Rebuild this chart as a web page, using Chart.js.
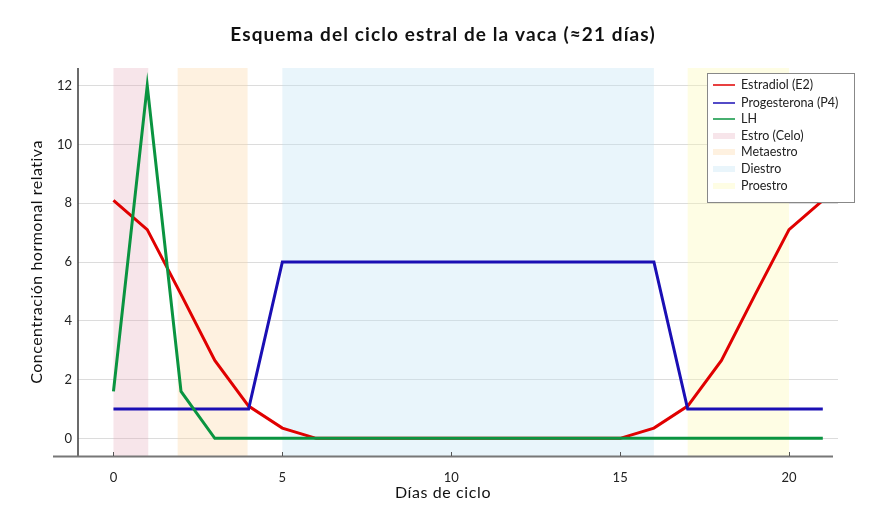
<!DOCTYPE html>
<html>
<head>
<meta charset="utf-8">
<script src="https://cdn.jsdelivr.net/npm/chart.js@4"></script>
<style>
  html, body { margin: 0; padding: 0; background: #fff; }
  #wrap { width: 885px; height: 526px; }
</style>
</head>
<body>
<div id="wrap"><canvas id="grafico" width="885" height="526"></canvas></div>
<script>
// datos del ciclo (día 0 a 21)
const dias = [0,1,2,3,4,5,6,7,8,9,10,11,12,13,14,15,16,17,18,19,20,21];
const estradiol    = [8.1,7.1,4.9,2.65,1.1,0.35,0,0,0,0,0,0,0,0,0,0,0.35,1.1,2.65,4.9,7.1,8.1];
const progesterona = [1,1,1,1,1,6,6,6,6,6,6,6,6,6,6,6,6,1,1,1,1,1];
const lh           = [1.6,12,1.6,0,0,0,0,0,0,0,0,0,0,0,0,0,0,0,0,0,0,0];

// fases
const fases      = ["Estro (Celo)", "Metaestro", "Diestro", "Proestro"];
const faseInicio = [0, 1.9, 5, 17];
const faseFin    = [1.03, 3.97, 16, 20];
const faseColor  = ["rgba(228,170,185,0.3)", "rgba(251,215,165,0.34)", "rgba(190,225,242,0.34)", "rgba(253,250,175,0.34)"];

const xTicks = [0, 5, 10, 15, 20];
const yTicks = [0, 2, 4, 6, 8, 10, 12];

const FONT = "Lato, 'Open Sans', sans-serif";

function puntos(vals) {
  return dias.map((d, i) => ({ x: d, y: vals[i] }));
}

// fondo de fases + ejes + textos
const extras = {
  id: "extras",
  beforeDatasetsDraw(chart) {
    const { ctx, chartArea: a, scales: { x } } = chart;
    ctx.save();
    fases.forEach((f, i) => {
      const x0 = x.getPixelForValue(faseInicio[i]);
      const x1 = x.getPixelForValue(faseFin[i]);
      ctx.fillStyle = faseColor[i];
      ctx.fillRect(x0, a.top, x1 - x0, a.bottom - a.top);
    });
    ctx.restore();
  },
  afterDraw(chart) {
    const { ctx, chartArea: a, scales: { x } } = chart;
    ctx.save();
    // eje y
    ctx.strokeStyle = "#3a3a3a";
    ctx.lineWidth = 1.5;
    ctx.beginPath();
    ctx.moveTo(a.left, a.top);
    ctx.lineTo(a.left, a.bottom);
    ctx.stroke();
    // eje x
    ctx.strokeStyle = "#777";
    ctx.lineWidth = 2;
    ctx.beginPath();
    ctx.moveTo(53, a.bottom + 0.5);
    ctx.lineTo(833, a.bottom + 0.5);
    ctx.stroke();
    ctx.strokeStyle = "#555";
    ctx.lineWidth = 1;
    xTicks.forEach(t => {
      const px = Math.round(x.getPixelForValue(t)) + 0.5;
      ctx.beginPath();
      ctx.moveTo(px, a.bottom - 4);
      ctx.lineTo(px, a.bottom);
      ctx.stroke();
    });

    // título
    ctx.fillStyle = "#111";
    ctx.textAlign = "center";
    ctx.textBaseline = "middle";
    ctx.font = "bold 19px " + FONT;
    ctx.letterSpacing = "1.1px";
    ctx.fillText("Esquema del ciclo estral de la vaca (≈21 días)", 443, 35);
    ctx.font = "16px " + FONT;
    ctx.letterSpacing = "0.6px";
    ctx.fillText("Días de ciclo", 443, 493);
    ctx.save();
    ctx.translate(37, 262);
    ctx.rotate(-Math.PI / 2);
    ctx.letterSpacing = "0.5px";
    ctx.fillText("Concentración hormonal relativa", 0, 0);
    ctx.restore();
    ctx.letterSpacing = "0px";

    // leyenda
    ctx.fillStyle = "#fff";
    ctx.fillRect(707, 73, 147, 129);
    ctx.strokeStyle = "#888";
    ctx.lineWidth = 1;
    ctx.strokeRect(707.5, 73.5, 147, 129);
    const items = chart.data.datasets.map(ds => ({ label: ds.label, color: ds.borderColor, w: 1.5 }))
      .concat(fases.map((f, i) => ({ label: f, color: faseColor[i], w: 6 })));
    const ys = [85, 103, 119, 136, 152, 169, 186];
    ctx.textAlign = "left";
    ctx.font = "12.5px " + FONT;
    items.forEach((it, i) => {
      ctx.strokeStyle = it.color;
      ctx.lineWidth = it.w;
      ctx.beginPath();
      ctx.moveTo(713, ys[i]);
      ctx.lineTo(735, ys[i]);
      ctx.stroke();
      ctx.fillStyle = "#222";
      ctx.fillText(it.label, 741, ys[i]);
    });
    ctx.restore();
  }
};

const chart = new Chart(document.getElementById("grafico").getContext("2d"), {
  type: "line",
  data: {
    datasets: [
      { label: "Estradiol (E2)", data: puntos(estradiol), borderColor: "#e00000", order: 2 },
      { label: "Progesterona (P4)", data: puntos(progesterona), borderColor: "#1a0fb4", order: 1 },
      { label: "LH", data: puntos(lh), borderColor: "#0a9440", order: 0 }
    ]
  },
  options: {
    responsive: false,
    devicePixelRatio: 1,
    animation: false,
    layout: { padding: { top: 68, right: 47, left: 0, bottom: 0 } },
    elements: {
      line: { borderWidth: 3, tension: 0, fill: false },
      point: { radius: 0 }
    },
    plugins: {
      legend: { display: false },
      title: { display: false },
      tooltip: { enabled: false }
    },
    scales: {
      x: {
        type: "linear",
        min: -1.05,
        max: 21.45,
        afterFit: s => { s.height = 70; },
        afterBuildTicks: s => { s.ticks = xTicks.map(v => ({ value: v })); },
        grid: { display: false },
        border: { display: false },
        ticks: { padding: 6, color: "#222", font: { family: FONT, size: 13 } }
      },
      y: {
        min: -0.6,
        max: 12.6,
        afterFit: s => { s.width = 78; },
        afterBuildTicks: s => { s.ticks = yTicks.map(v => ({ value: v })); },
        grid: { color: "#dcdcdc", lineWidth: 1, drawTicks: false },
        border: { display: false },
        ticks: { padding: 6, color: "#222", font: { family: FONT, size: 13 } }
      }
    }
  },
  plugins: [extras]
});
</script>
</body>
</html>
